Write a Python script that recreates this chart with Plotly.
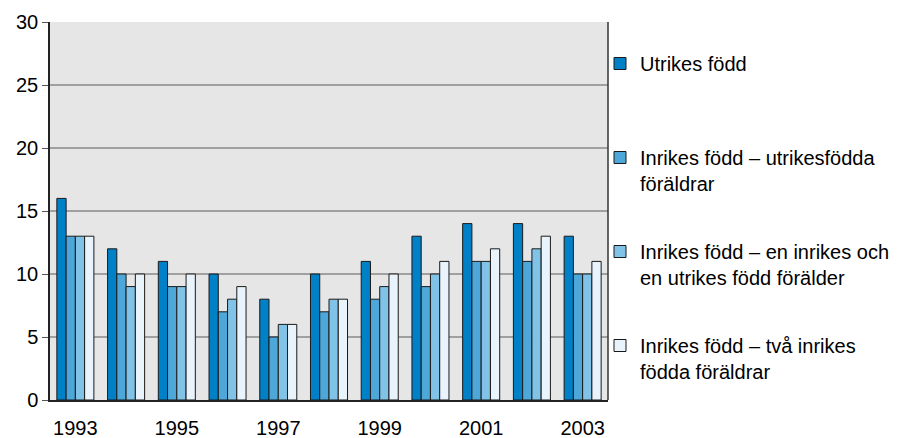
import plotly.graph_objects as go

years = [1993, 1994, 1995, 1996, 1997, 1998, 1999, 2000, 2001, 2002, 2003]
utrikes = [16, 12, 11, 10, 8, 10, 11, 13, 14, 14, 13]
inrikes_utr_foraldrar = [13, 10, 9, 7, 5, 7, 8, 9, 11, 11, 10]
inrikes_en_en = [13, 9, 9, 8, 6, 8, 9, 10, 11, 12, 10]
inrikes_tva_inrikes = [13, 10, 10, 9, 6, 8, 10, 11, 12, 13, 11]

names = [
    "Utrikes född",
    "Inrikes född – utrikesfödda<br>föräldrar",
    "Inrikes född – en inrikes och<br>en utrikes född förälder",
    "Inrikes född – två inrikes<br>födda föräldrar",
]
series = [utrikes, inrikes_utr_foraldrar, inrikes_en_en, inrikes_tva_inrikes]
colors = ["#0080C6", "#4DA7D9", "#80C3E7", "#E8F3FB"]
legend_ids = ["legend", "legend2", "legend3", "legend4"]
legend_tops = [44, 138, 232, 326]

fig = go.Figure()
for nm, vals, col, lg in zip(names, series, colors, legend_ids):
    fig.add_trace(go.Bar(
        x=years, y=vals, name=nm, legend=lg,
        marker=dict(color=col, line=dict(color="#1a1a1a", width=1)),
    ))

font = dict(family="Liberation Sans, Arial, sans-serif", size=20, color="#000000")
layout_legends = {}
for lg, top in zip(legend_ids, legend_tops):
    layout_legends[lg] = dict(
        xref="container", yref="container",
        x=600 / 911, y=1 - top / 438, xanchor="left", yanchor="top",
        font=font, valign="top", bgcolor="rgba(0,0,0,0)",
        itemwidth=30, tracegroupgap=0,
    )

fig.update_layout(
    width=911, height=438,
    margin=dict(l=50, r=303, t=22, b=38, autoexpand=False),
    paper_bgcolor="white",
    plot_bgcolor="#E6E6E6",
    barmode="group",
    bargap=0.27,
    bargroupgap=0,
    font=font,
    showlegend=True,
    **layout_legends,
)
fig.update_xaxes(
    range=[1992.5, 2003.5], tickmode="array",
    tickvals=[1993, 1995, 1997, 1999, 2001, 2003],
    ticktext=["1993", "1995", "1997", "1999", "2001", "2003"],
    showgrid=False, showline=True, linecolor="#222222", linewidth=2,
    mirror=False, ticks="", tickfont=font, zeroline=False,
    ticklabelstandoff=9,
)
fig.update_yaxes(
    range=[0, 30], dtick=5, tick0=0,
    showgrid=True, gridcolor="#A0A0A0", gridwidth=1.5,
    showline=True, linecolor="#222222", linewidth=1.5,
    ticks="outside", ticklen=6, tickcolor="#555555", tickfont=font,
    zeroline=False,
)
fig.add_shape(type="line", xref="paper", yref="paper", x0=1, x1=1, y0=0, y1=1,
              line=dict(color="#333333", width=1.5))

fig.write_html("out.html", config={"displayModeBar": False},
               post_script="document.body.style.margin='0';")
